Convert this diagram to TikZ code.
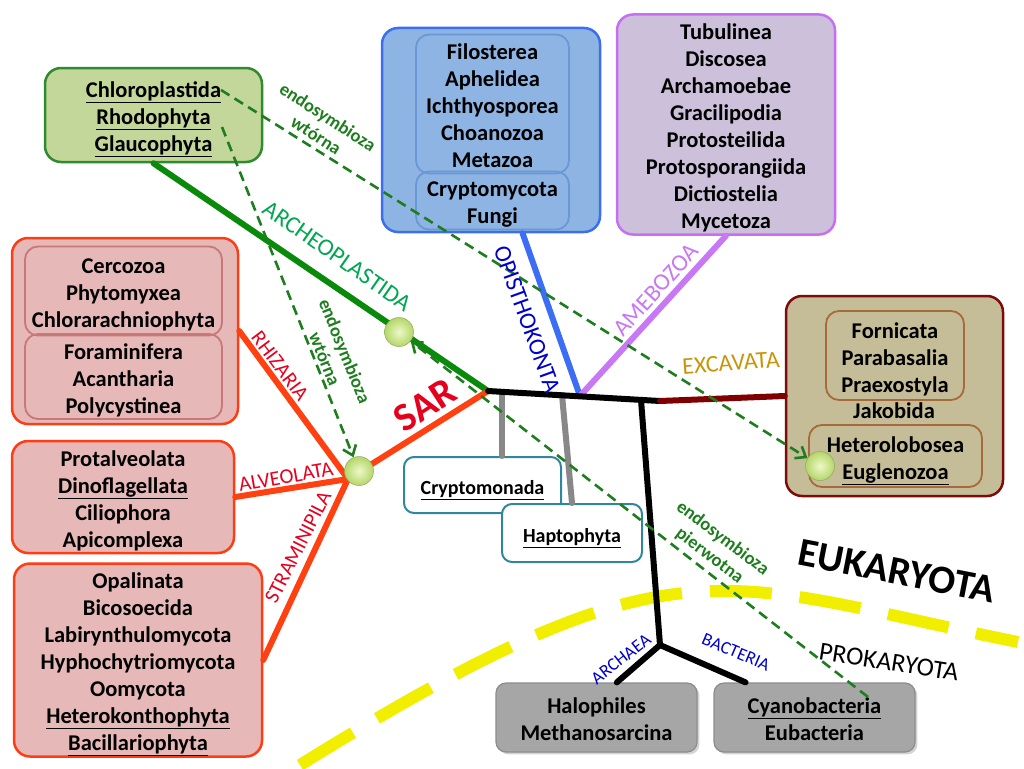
\documentclass[tikz,border=0pt]{standalone}
\usepackage{fontspec}
\setmainfont{Carlito}
\usepackage{xcolor}
\usepackage{tikz}
\usetikzlibrary{arrows.meta,shadows}
\definecolor{archF}{HTML}{C4D79B}
\definecolor{archD}{HTML}{2E8B2E}
\definecolor{opisF}{HTML}{8DB4E2}
\definecolor{opisD}{HTML}{3C6EF0}
\definecolor{opisI}{HTML}{6A98D6}
\definecolor{amoeF}{HTML}{CCC0DA}
\definecolor{amoeD}{HTML}{C86EF0}
\definecolor{sarF}{HTML}{E6B8B7}
\definecolor{sarD}{HTML}{FF3C14}
\definecolor{sarI}{HTML}{C87878}
\definecolor{excF}{HTML}{C4BD97}
\definecolor{excD}{HTML}{7F0A0A}
\definecolor{excI}{HTML}{A86A3C}
\definecolor{crypD}{HTML}{31859C}
\definecolor{prokF}{HTML}{A6A6A6}
\definecolor{prokD}{HTML}{8C8C8C}
\definecolor{arcL}{HTML}{0A8A0A}
\definecolor{opiL}{HTML}{3D6DF5}
\definecolor{amoL}{HTML}{C878F5}
\definecolor{sarL}{HTML}{FF4010}
\definecolor{excL}{HTML}{7F0000}
\definecolor{grL}{HTML}{888888}
\definecolor{arcT}{HTML}{00A651}
\definecolor{opiT}{HTML}{0000CC}
\definecolor{excT}{HTML}{C8960A}
\definecolor{sarT}{HTML}{E6001E}
\definecolor{endoC}{HTML}{1E7D1E}
\definecolor{yell}{HTML}{F2EE00}
\definecolor{ballIn}{HTML}{EEF8C8}
\definecolor{ballOut}{HTML}{B4D66A}
\newcommand{\taxa}{\fontsize{22.5}{27}\selectfont\bfseries}
\newcommand{\smtaxa}{\fontsize{20}{24}\selectfont\bfseries}
\newcommand{\labfont}{\fontsize{24}{28}\selectfont}
\newcommand{\sarfont}{\fontsize{21}{24}\selectfont}
\newcommand{\symfont}{\fontsize{18.5}{21.5}\selectfont\bfseries}
% struts: first and last line of a box
\newcommand{\tp}{\rule{0pt}{25pt}}
\newcommand{\bt}{\rule[-6pt]{0pt}{6pt}}
\tikzset{
  box/.style={rounded corners=16pt,line width=2.5pt,align=center,inner sep=0pt,font=\taxa},
  inbox/.style={rounded corners=13pt,line width=1.8pt,align=center,inner sep=0pt,font=\taxa},
  pbox/.style={draw=crypD,fill=white,rounded corners=10pt,line width=2pt,inner sep=0pt,font=\smtaxa},
  gbox/.style={draw=prokD,fill=prokF,rounded corners=10pt,line width=1.2pt,align=center,inner sep=0pt,font=\taxa,drop shadow={opacity=0.35}},
  br/.style={line width=6pt,line cap=round},
  lab/.style={font=\labfont,inner sep=0pt},
  slab/.style={font=\sarfont,text=sarT,inner sep=0pt},
  endo/.style={endoC,line width=2.6pt,dash pattern=on 10pt off 6pt,-{Straight Barb[length=9pt,width=14pt]}},
  endot/.style={font=\symfont,text=endoC,align=center,inner sep=0pt},
  ball/.style={circle,minimum size=29pt,inner sep=0pt,draw=ballOut!80!black,line width=0.5pt,inner color=ballIn,outer color=ballOut}
}
\begin{document}
\begin{tikzpicture}[x=1pt,y=-1pt]
\useasboundingbox (0,0) rectangle (1024,768);
% granica eukaryota / prokaryota
\draw[yell,line width=12pt,dash pattern=on 62pt off 28pt] (300,765) .. controls (680,529) and (718,582) .. (1018,642);

\coordinate (hub) at (488,391);
\coordinate (j1) at (502,392);
\coordinate (j2) at (562,395);
\coordinate (j3) at (580,396);
\coordinate (j4) at (641,400);
\coordinate (j5) at (660,401);
\coordinate (sj) at (348,479);
\coordinate (pj) at (660,645);

% grupy
\node[box,draw=archD,fill=archF,minimum width=217pt,minimum height=94pt] (arch) at (153.5,115) {\tp\underline{Chloroplastida}\\\underline{Rhodophyta}\\\underline{Glaucophyta}\bt};
\node[box,draw=opisD,fill=opisF,minimum width=218pt,minimum height=204pt] (opis) at (491,130) {};
\node[inbox,draw=opisI,minimum width=153pt,minimum height=134pt] (opisA) at (492.5,104) {\tp Filosterea\\Aphelidea\\Ichthyosporea\\Choanozoa\\Metazoa\bt};
\node[inbox,draw=opisI,minimum width=153pt,minimum height=49pt] (opisB) at (492.5,200.5) {\tp Cryptomycota\\Fungi\bt};
\node[box,draw=amoeD,fill=amoeF,minimum width=218pt,minimum height=217pt] (amoe) at (726,124.5) {\tp Tubulinea\\Discosea\\Archamoebae\\Gracilipodia\\Protosteilida\\Protosporangiida\\Dictiostelia\\Mycetoza\bt};
\node[box,draw=sarD,fill=sarF,minimum width=226pt,minimum height=186pt] (rhiz) at (125,331) {};
\node[inbox,draw=sarI,minimum width=197pt,minimum height=89pt] (rhizA) at (123.5,291) {\tp Cercozoa\\Phytomyxea\\Chlorarachniophyta\bt};
\node[inbox,draw=sarI,minimum width=197pt,minimum height=79pt] (rhizB) at (123.5,376.5) {\tp Foraminifera\\Acantharia\\Polycystinea\bt};
\node[box,draw=sarD,fill=sarF,minimum width=222pt,minimum height=112pt] (alve) at (123,497) {\tp Protalveolata\\\underline{Dinoflagellata}\\Ciliophora\\Apicomplexa\bt};
\node[box,draw=sarD,fill=sarF,minimum width=248pt,minimum height=190pt] (stra) at (138,660) {\tp Opalinata\\Bicosoecida\\Labirynthulomycota\\Hyphochytriomycota\\Oomycota\\\underline{Heterokonthophyta}\\\underline{Bacillariophyta}\bt};
\node[box,draw=excD,fill=excF,minimum width=217pt,minimum height=200pt] (exca) at (894.5,396) {};
\node[inbox,draw=excI,minimum width=138pt,minimum height=89pt] (excaA) at (895,355.5) {\tp Fornicata\\Parabasalia\\Praexostyla\bt};
\node[font=\taxa,inner sep=0pt] (jako) at (894,411) {Jakobida};
\node[inbox,draw=excI,minimum width=173pt,minimum height=62pt] (excaB) at (895.5,456) {\tp Heterolobosea\\\underline{Euglenozoa}\bt};
\node[pbox,minimum width=157pt,minimum height=56pt] (cryp) at (482.5,485) {\tp\underline{Cryptomonada}\bt};
\node[pbox,minimum width=140pt,minimum height=58pt] (hapt) at (572,533) {\tp\underline{Haptophyta}\bt};
\node[gbox,minimum width=201pt,minimum height=69pt] (halo) at (596.5,717.5) {\tp Halophiles\\Methanosarcina\bt};
\node[gbox,minimum width=201pt,minimum height=69pt] (cyan) at (814.5,717.5) {\tp\underline{Cyanobacteria}\\Eubacteria\bt};

% drzewo
\draw[br,arcL] (arch.south) -- (hub);
\draw[br,opiL] (opis.-73) -- (j3);
\draw[br,amoL] (amoe.south) -- (j3);
\draw[br,sarL] (hub) -- (sj);
\draw[br,sarL] (sj) -- (rhiz.east);
\draw[br,sarL] (sj) -- (alve.east);
\draw[br,sarL] (sj) -- (stra.east);
\draw[br,grL] (j1) -- (cryp.north -| j1);
\draw[br,grL] (j2) -- (hapt.north);
\draw[br] (hub) -- (j5);
\draw[br,excL] (j5) -- (exca.west);
\draw[br] (j4) -- (pj);
\draw[br] (pj) -- (halo.60);
\draw[br] (pj) -- (cyan.153);

\node[ball] (bA) at (399,332) {};
\node[ball] (bS) at (359,471) {};
\node[ball] (bE) at (820,466) {};

% endosymbiozy
\coordinate (chl) at (221,90);
\coordinate (rho) at (222,127);
\coordinate (cya) at (868,697);
\draw[endo] (chl) -- (bE);
\draw[endo] (rho) -- (bS);
\draw[endo] (cya) -- (bA);
\node[endot,rotate=-33] (e1) at (322,126) {endosymbioza\\wtórna};
\node[endot,rotate=-68] (e2) at (335,355) {endosymbioza\\wtórna};
\node[endot,rotate=-37] (e3) at (716,547) {endosymbioza\\pierwotna};

% etykiety
\node[lab,text=arcT,rotate=-35] (lArc) at (337,256) {ARCHEOPLASTIDA};
\node[lab,text=opiT,rotate=-70] (lOpi) at (527,319) {OPISTHOKONTA};
\node[lab,text=amoL,rotate=48] (lAmo) at (656,290) {AMEBOZOA};
\node[lab,text=excT,rotate=4] (lExc) at (731,363) {EXCAVATA};
\node[font=\fontsize{40}{44}\selectfont\bfseries,text=sarT,rotate=33,inner sep=0pt] (lSar) at (425,405) {SAR};
\node[slab,rotate=-53] (lRhi) at (280,366) {RHIZARIA};
\node[slab,rotate=10] (lAlv) at (286,477) {ALVEOLATA};
\node[slab,rotate=63] (lStr) at (298,547) {STRAMINIPILA};
\node[font=\fontsize{40}{44}\selectfont\bfseries,rotate=-11,inner sep=0pt] (lEuk) at (897,571) {EUKARYOTA};
\node[font=\fontsize{26}{28}\selectfont,rotate=-9,inner sep=0pt] (lPro) at (889,662) {PROKARYOTA};
\node[font=\fontsize{18}{20}\selectfont,text=opiT,rotate=38,inner sep=0pt] (lArch) at (621,659) {ARCHAEA};
\node[font=\fontsize{18}{20}\selectfont,text=opiT,rotate=-23,inner sep=0pt] (lBac) at (736,652) {BACTERIA};
\end{tikzpicture}
\end{document}
